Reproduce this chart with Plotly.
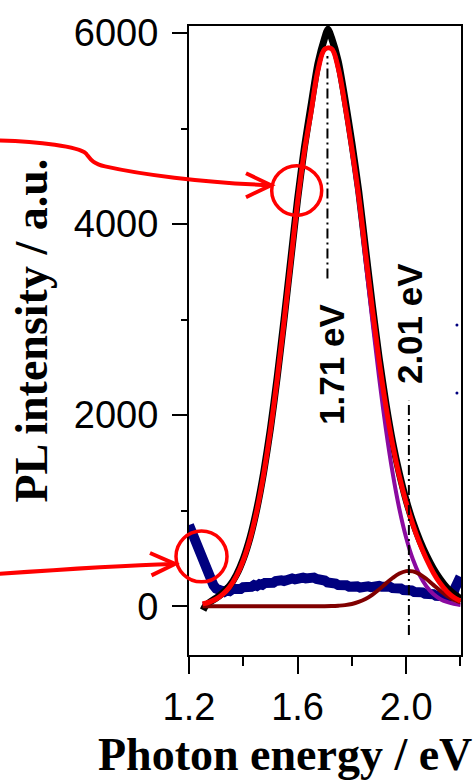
import plotly.graph_objects as go

# ---------------- data ----------------
energy_fit = [1.250, 1.275, 1.300, 1.325, 1.350, 1.375, 1.400, 1.425, 1.450, 1.475,
              1.500, 1.525, 1.550, 1.575, 1.600, 1.625, 1.650, 1.675, 1.700, 1.725,
              1.750, 1.775, 1.800, 1.825, 1.850, 1.875, 1.900, 1.925, 1.950, 1.975,
              2.000, 2.025, 2.050, 2.075, 2.100, 2.125, 2.150, 2.175, 2.200]
fit_total = [25, 44, 76, 126, 203, 318, 481, 706, 1003, 1381,
             1842, 2379, 2975, 3605, 4231, 4760, 5180, 5610, 5830, 5835,
             5630, 5240, 4790, 4300, 3706, 3120, 2576, 2099, 1694, 1360,
             1085, 854, 658, 492, 352, 241, 155, 94, 54]
fit_peak1 = [25, 44, 76, 126, 203, 318, 481, 706, 1003, 1381,
             1842, 2379, 2975, 3605, 4231, 4760, 5180, 5610, 5830, 5835,
             5624, 5228, 4766, 4255, 3630, 3000, 2401, 1862, 1398, 1017,
             717, 489, 323, 207, 128, 77, 45, 25, 14]
fit_peak2 = [0, 0, 0, 0, 0, 0, 0, 0, 0, 0,
             0, 0, 0, 0, 0, 0, 0, 0, 0, 2,
             6, 12, 24, 45, 76, 120, 175, 237, 296, 343,
             368, 365, 335, 285, 224, 164, 110, 69, 40]

energy_pl = [1.252, 1.260, 1.275, 1.300, 1.325, 1.350, 1.375, 1.400, 1.425, 1.450,
             1.475, 1.500, 1.525, 1.550, 1.575, 1.600, 1.625, 1.650, 1.675, 1.700,
             1.712, 1.725, 1.750, 1.775, 1.800, 1.825, 1.850, 1.875, 1.900, 1.925,
             1.950, 1.975, 2.000, 2.025, 2.050, 2.075, 2.100, 2.125, 2.150, 2.175,
             2.200]
pl_intensity = [-40, 0, 40, 85, 140, 215, 330, 495, 720, 1020,
                1400, 1860, 2400, 3000, 3630, 4260, 4800, 5250, 5680, 5950,
                6040, 5950, 5700, 5300, 4850, 4350, 3750, 3160, 2610, 2130,
                1720, 1390, 1110, 880, 690, 530, 395, 285, 195, 130,
                80]

energy_ref = [1.20, 1.21, 1.22, 1.23, 1.24, 1.25, 1.26, 1.27, 1.28, 1.29,
              1.30, 1.31, 1.32, 1.33, 1.34, 1.35, 1.36, 1.37, 1.38, 1.39,
              1.40, 1.41, 1.42, 1.43, 1.44, 1.45, 1.46, 1.47, 1.48, 1.49,
              1.50, 1.51, 1.52, 1.53, 1.54, 1.55, 1.56, 1.57, 1.58, 1.59,
              1.60, 1.61, 1.62, 1.63, 1.64, 1.65, 1.66, 1.67, 1.68, 1.69,
              1.70, 1.71, 1.72, 1.73, 1.74, 1.75, 1.76, 1.77, 1.78, 1.79,
              1.80, 1.81, 1.82, 1.83, 1.84, 1.85, 1.86, 1.87, 1.88, 1.89,
              1.90, 1.91, 1.92, 1.93, 1.94, 1.95, 1.96, 1.97, 1.98, 1.99,
              2.00, 2.01, 2.02, 2.03, 2.04, 2.05, 2.06, 2.07, 2.08, 2.09,
              2.10, 2.11, 2.12, 2.13, 2.14, 2.15, 2.16, 2.17, 2.18, 2.19,
              2.20]
ref_intensity = [850, 780, 705, 625, 545, 465, 390, 320, 265, 220,
                 185, 165, 160, 150, 168, 160, 180, 172, 190, 180,
                 200, 192, 210, 203, 222, 212, 232, 224, 244, 236,
                 254, 245, 264, 255, 272, 265, 282, 274, 290, 282,
                 296, 288, 300, 292, 303, 296, 300, 285, 288, 268,
                 270, 250, 252, 235, 238, 222, 228, 212, 220, 205,
                 213, 200, 208, 196, 206, 198, 208, 200, 212, 202,
                 214, 204, 210, 198, 204, 190, 196, 182, 186, 170,
                 176, 160, 166, 150, 156, 140, 146, 130, 136, 120,
                 126, 110, 115, 100, 104, 92, 96, 100, 190, 255,
                 310]
ref_spike_energy = [2.187, 2.187]
ref_spike_intensity = [2945, 2232]

peak_energy = [1.71, 2.01]
peak_line_top = [5760, 2150]
peak_line_bottom = [3430, -300]
peak_labels = ["1.71 eV", "2.01 eV"]

x_ticks = [1.2, 1.6, 2.0]
x_minor_ticks = [1.4, 1.8, 2.2]
y_ticks = [0, 2000, 4000, 6000]
y_minor_ticks = [1000, 3000, 5000]

# ---------------- figure ----------------
W, H = 476, 782
L, R, T, B = 189, 15, 23, 127
PW, PH = W - L - R, H - T - B


def px(x, y):
    return (x - L) / PW, (H - B - y) / PH


def path(points, cmd):
    s = ""
    for c, pts in zip(cmd, points):
        s += c + " " + " ".join("%.5f,%.5f" % px(*p) for p in pts) + " "
    return s.strip()


fig = go.Figure()

fig.add_trace(go.Scatter(x=energy_ref, y=ref_intensity, mode="lines",
                         line=dict(color="#00007f", width=10), hoverinfo="skip"))
fig.add_trace(go.Scatter(x=ref_spike_energy, y=ref_spike_intensity, mode="markers",
                         marker=dict(color="#00007f", size=3), hoverinfo="skip"))
fig.add_trace(go.Scatter(x=energy_pl, y=pl_intensity, mode="lines",
                         line=dict(color="black", width=7, shape="spline", smoothing=0.6),
                         hoverinfo="skip"))
fig.add_trace(go.Scatter(x=energy_fit, y=fit_peak1, mode="lines",
                         line=dict(color="#8a0aa0", width=4, shape="spline"), hoverinfo="skip"))
fig.add_trace(go.Scatter(x=energy_fit, y=fit_peak2, mode="lines",
                         line=dict(color="#800000", width=4, shape="spline"), hoverinfo="skip"))
fig.add_trace(go.Scatter(x=energy_fit, y=fit_total, mode="lines",
                         line=dict(color="#ff0000", width=5, shape="spline"), hoverinfo="skip"))
for e, y0, y1 in zip(peak_energy, peak_line_bottom, peak_line_top):
    fig.add_trace(go.Scatter(x=[e, e], y=[y0, y1], mode="lines",
                             line=dict(color="black", width=2, dash="10px,4px,2px,4px"),
                             hoverinfo="skip"))

tick_font = dict(family="Liberation Sans, Arial, sans-serif", size=38, color="black")
fig.update_xaxes(range=[1.2, 2.202], tickmode="array", tickvals=x_ticks,
                 ticktext=["%.1f" % v for v in x_ticks],
                 ticks="outside", ticklen=17, tickwidth=2, tickcolor="black",
                 minor=dict(tickmode="array", tickvals=x_minor_ticks, ticks="outside",
                            ticklen=9, tickwidth=2, tickcolor="black"),
                 showline=True, linewidth=2, linecolor="black", mirror=True,
                 showgrid=False, zeroline=False, tickfont=tick_font)
fig.update_yaxes(range=[-510, 6073], tickmode="array", tickvals=y_ticks,
                 ticktext=[str(v) for v in y_ticks],
                 ticks="outside", ticklen=15, tickwidth=2, tickcolor="black",
                 minor=dict(tickmode="array", tickvals=y_minor_ticks, ticks="outside",
                            ticklen=6, tickwidth=2, tickcolor="black"),
                 showline=True, linewidth=2, linecolor="black", mirror=True,
                 showgrid=False, zeroline=False, tickfont=tick_font,
                 ticklabelstandoff=6)

title_font = dict(family="Liberation Serif, Times New Roman, serif", size=46, color="black")
label_font = dict(family="Liberation Sans, Arial, sans-serif", size=35, color="black")

annotations = [
    dict(text="<b>Photon energy / eV</b>", xref="paper", yref="paper",
         x=px(285, 755)[0], y=px(285, 755)[1], showarrow=False, font=title_font,
         xanchor="center", yanchor="middle"),
    dict(text="<b>PL intensity / a.u.</b>", xref="paper", yref="paper",
         x=px(32, 329)[0], y=px(32, 329)[1], showarrow=False, font=title_font,
         textangle=-90, xanchor="center", yanchor="middle"),
]
label_pos = [(331.5, 363), (409, 322.5)]
for lab, (lx, ly) in zip(peak_labels, label_pos):
    annotations.append(dict(text="<b>%s</b>" % lab, xref="paper", yref="paper",
                            x=px(lx, ly)[0], y=px(lx, ly)[1], showarrow=False,
                            font=label_font, textangle=-90,
                            xanchor="center", yanchor="middle"))

red = "#ff0000"
shapes = [
    dict(type="path", xref="paper", yref="paper",
         path=path([[(-2, 138)], [(40, 139), (78, 144), (86, 151)],
                    [(90, 156), (92, 161), (105, 164)],
                    [(140, 172), (200, 180), (270, 183)]], ["M", "C", "C", "C"]),
         line=dict(color=red, width=4)),
    dict(type="path", xref="paper", yref="paper",
         path=path([[(246, 171)], [(271, 183)], [(246, 195)]], ["M", "L", "L"]),
         line=dict(color=red, width=4)),
    dict(type="circle", xref="paper", yref="paper",
         x0=px(271.7, 0)[0], x1=px(321.7, 0)[0],
         y0=px(0, 163.3)[1], y1=px(0, 213.3)[1], line=dict(color=red, width=3.5)),
    dict(type="path", xref="paper", yref="paper",
         path=path([[(-2, 573.5)], [(60, 569), (120, 565), (174, 563.5)]], ["M", "C"]),
         line=dict(color=red, width=4)),
    dict(type="path", xref="paper", yref="paper",
         path=path([[(150, 552.5)], [(175, 563.5)], [(151.5, 575)]], ["M", "L", "L"]),
         line=dict(color=red, width=4)),
    dict(type="circle", xref="paper", yref="paper",
         x0=px(176, 0)[0], x1=px(227, 0)[0],
         y0=px(0, 530.5)[1], y1=px(0, 581.5)[1], line=dict(color=red, width=3.5)),
]

fig.update_layout(width=W, height=H, margin=dict(l=L, r=R, t=T, b=B),
                  paper_bgcolor="white", plot_bgcolor="white", showlegend=False,
                  annotations=annotations, shapes=shapes, hovermode=False)

fig.write_html("out.html", config={"displayModeBar": False},
               post_script="document.body.style.margin='0';document.body.style.overflow='hidden';")
